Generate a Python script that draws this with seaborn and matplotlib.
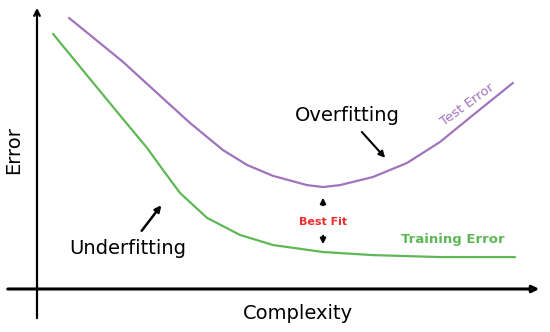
import matplotlib
matplotlib.use("Agg")
import matplotlib.pyplot as plt
import seaborn as sns
import pandas as pd

# Dados (complexidade x erro)
complexidade_teste = [0.64, 1.06, 1.72, 2.40, 3.06, 3.72, 4.20, 4.72, 5.40, 5.72, 6.06, 6.72, 7.40, 8.06, 8.72, 9.52]
erro_teste = [9.68, 9.07, 8.11, 7.00, 5.93, 4.96, 4.43, 4.04, 3.71, 3.64, 3.71, 4.00, 4.50, 5.25, 6.21, 7.36]

complexidade_treino = [0.32, 1.06, 1.72, 2.20, 2.52, 2.86, 3.40, 4.06, 4.72, 5.72, 6.72, 8.06, 9.56]
erro_treino = [9.11, 7.50, 6.07, 5.04, 4.25, 3.43, 2.54, 1.93, 1.57, 1.32, 1.21, 1.14, 1.14]

roxo = "#a173bd"
verde = "#5fb856"
vermelho = "#ec2b2b"

sns.set_theme(style="white")
plt.rcParams['font.family'] = ['DejaVu Sans']
plt.rcParams['text.color'] = 'black'

fig = plt.figure(figsize=(5.5, 3.32), dpi=100)
ax = fig.add_axes([0, 0, 1, 1])

df_teste = pd.DataFrame({'Complexidade': complexidade_teste, 'Erro': erro_teste})
df_treino = pd.DataFrame({'Complexidade': complexidade_treino, 'Erro': erro_treino})

sns.lineplot(data=df_teste, x='Complexidade', y='Erro', color=roxo, lw=1.6, sort=False, ax=ax)
sns.lineplot(data=df_treino, x='Complexidade', y='Erro', color=verde, lw=1.6, sort=False, ax=ax)

ax.set_xlim(-0.74, 10.26)
ax.set_ylim(-1.536, 10.32)
ax.axis('off')

# Eixos desenhados à mão
ax.annotate("", xy=(0, 10.14), xytext=(0, -1.14),
            arrowprops=dict(arrowstyle="->", lw=1.6, color="black", mutation_scale=10))
ax.annotate("", xy=(10.1, 0), xytext=(-0.64, 0),
            arrowprops=dict(arrowstyle="-|>", lw=2.2, color="black", fc="white", mutation_scale=10))

ax.text(-0.46, 4.96, "Error", rotation=90, ha='center', va='center', fontsize=14)
ax.text(5.22, -0.86, "Complexity", ha='center', va='center', fontsize=14)

# Anotações
ax.text(6.2, 6.21, "Overfitting", ha='center', va='center', fontsize=14)
ax.annotate("", xy=(7.0, 4.61), xytext=(6.46, 5.68),
            arrowprops=dict(arrowstyle="-|>", lw=1.5, color="black", mutation_scale=9))

ax.text(1.82, 1.43, "Underfitting", ha='center', va='center', fontsize=14)
ax.annotate("", xy=(2.52, 3.07), xytext=(2.06, 2.0),
            arrowprops=dict(arrowstyle="-|>", lw=1.8, color="black", mutation_scale=9))

ax.text(5.72, 2.39, "Best Fit", ha='center', va='center', fontsize=8, color=vermelho, fontweight='bold')
ax.annotate("", xy=(5.72, 3.36), xytext=(5.72, 2.89),
            arrowprops=dict(arrowstyle="-|>", lw=1.5, color="black", mutation_scale=8))
ax.annotate("", xy=(5.72, 1.5), xytext=(5.72, 2.0),
            arrowprops=dict(arrowstyle="-|>", lw=1.5, color="black", mutation_scale=8))

ax.text(8.6, 6.57, "Test Error", ha='center', va='center', fontsize=9.5, color=roxo, rotation=36)
ax.text(8.32, 1.75, "Training Error", ha='center', va='center', fontsize=9.5, color=verde, fontweight='bold')

fig.savefig("out.png", dpi=100)
